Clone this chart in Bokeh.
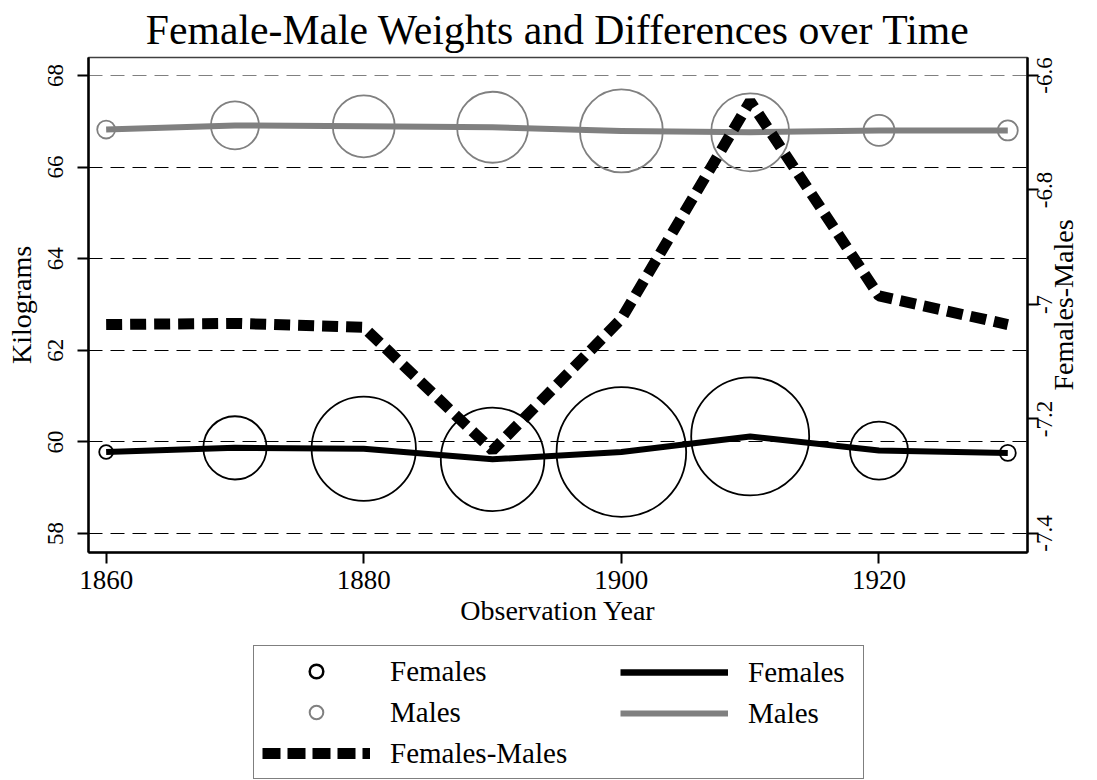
import math
from bokeh.plotting import figure
from bokeh.layouts import column
from bokeh.models import (Range1d, LinearAxis, FixedTicker, Grid, Legend,
                          LegendItem, ColumnDataSource, CustomJSTickFormatter)
from bokeh.embed import file_html
from bokeh.resources import INLINE

# ---------------- data ----------------
years = [1860, 1870, 1880, 1890, 1900, 1910, 1920, 1930]
female_kg = [59.78, 59.87, 59.85, 59.62, 59.78, 60.12, 59.81, 59.76]
male_kg = [66.82, 66.91, 66.89, 66.87, 66.79, 66.76, 66.80, 66.80]
diff_kg = [-7.035, -7.033, -7.04, -7.255, -7.025, -6.645, -6.985, -7.035]
female_n = [12, 250, 680, 670, 1050, 870, 210, 16]   # bubble weights
male_n = [20, 144, 240, 315, 430, 380, 60, 25]

x_ticks = [1860, 1880, 1900, 1920]
kg_ticks = [58, 60, 62, 64, 66, 68]
diff_ticks = [-7.4, -7.2, -7, -6.8, -6.6]
diff_labels = ["-7.4", "-7.2", "-7", "-6.8", "-6.6"]

title = "Female-Male Weights and Differences over Time"
x_title = "Observation Year"
y_title = "Kilograms"
y2_title = "Females-Males"

# ---------------- styling / layout ----------------
FONT = "Liberation Serif"
GRAY = "#808080"
BUBBLE = 4.0          # marker diameter (px) per sqrt(weight)
XTICK_PX = 27
YTICK_PX = 23
TITLE_PX = 28
W, H_MAIN, H_LEG = 1097, 640, 140
FL, FR, FT, FB = 88, 1028, 57, 552     # frame edges in page pixels

x_rng = (1858.63, 1931.53)
y_rng = (57.5852, 68.3929)
d_rng = (-7.43319, -6.56856)
ppu = (FB - FT) / (d_rng[1] - d_rng[0])   # px per unit on the right scale

# Times-like advance widths (em) for centring bottom-to-top texts on the right
ADV = {"-": 0.333, ".": 0.25, "F": 0.556, "e": 0.444, "m": 0.778, "a": 0.444,
       "l": 0.278, "s": 0.389, "M": 0.889}
def text_len(s, px):
    return sum(ADV.get(c, 0.5) for c in s) * px

src = ColumnDataSource(dict(
    year=years, female=female_kg, male=male_kg, diff=diff_kg,
    fsize=[BUBBLE * math.sqrt(n) for n in female_n],
    msize=[BUBBLE * math.sqrt(n) for n in male_n],
))

p = figure(width=W, height=H_MAIN,
           x_range=Range1d(*x_rng), y_range=Range1d(*y_rng),
           output_backend="svg", toolbar_location=None, title=title,
           min_border_left=FL, min_border_right=W - FR,
           min_border_top=FT, min_border_bottom=H_MAIN - FB)
p.extra_y_ranges = {"diff": Range1d(*d_rng)}

p.background_fill_color = "white"
p.border_fill_color = "white"
p.outline_line_color = "#404040"
p.outline_line_width = 1.5

p.title.text_font = FONT
p.title.text_font_size = "41.7px"
p.title.text_font_style = "normal"
p.title.text_color = "black"
p.title.align = "center"
p.title.offset = 0
p.title.standoff = 9

# grids
p.xgrid.visible = False
p.ygrid.ticker = FixedTicker(ticks=kg_ticks[:-1])
p.ygrid.grid_line_color = "black"
p.ygrid.grid_line_width = 1.2
p.ygrid.grid_line_dash = "14 8"
p.add_layout(Grid(dimension=1, ticker=FixedTicker(ticks=kg_ticks[-1:]),
                  grid_line_color=GRAY, grid_line_width=1.2,
                  grid_line_dash="14 8"))

# glyphs
p.scatter("year", "female", size="fsize", source=src, marker="circle",
          fill_color=None, line_color="black", line_width=1.8)
p.scatter("year", "male", size="msize", source=src, marker="circle",
          fill_color=None, line_color=GRAY, line_width=1.8)
p.line("year", "female", source=src, line_color="black", line_width=6,
       line_join="round")
p.line("year", "male", source=src, line_color=GRAY, line_width=6,
       line_join="round")
p.line("year", "diff", source=src, y_range_name="diff", line_color="black",
       line_width=11, line_dash="16 8", line_cap="butt")

def style_axis(ax, tick_px):
    ax.axis_line_width = 2.5
    ax.axis_line_color = "black"
    ax.major_tick_line_width = 2
    ax.major_tick_line_color = "black"
    ax.minor_tick_line_width = 2
    ax.minor_tick_line_color = "black"
    ax.major_tick_out = 11
    ax.major_tick_in = 0
    ax.minor_tick_out = 0
    ax.minor_tick_in = 0
    ax.major_label_text_font = FONT
    ax.major_label_text_font_size = f"{tick_px}px"
    ax.major_label_text_color = "black"
    ax.axis_label_text_font = FONT
    ax.axis_label_text_font_size = f"{TITLE_PX}px"
    ax.axis_label_text_font_style = "normal"
    ax.axis_label_text_color = "black"
    ax.major_label_standoff = 3
    ax.axis_label_standoff = 0

xa = p.xaxis[0]
ya = p.yaxis[0]
style_axis(xa, XTICK_PX)
style_axis(ya, YTICK_PX)
xa.ticker = FixedTicker(ticks=x_ticks)
xa.axis_label = x_title
xa.major_label_standoff = 7
xa.axis_label_standoff = 3
ya.ticker = FixedTicker(ticks=kg_ticks)
ya.axis_label = y_title
ya.major_label_orientation = "vertical"
ya.major_label_standoff = 14
ya.axis_label_standoff = 9

# right axis: line, tick marks (as minor ticks at the true values) and
# bottom-to-top labels centred on those ticks (major positions carry labels)
lab_pos = [max(t - text_len(s, YTICK_PX) / 2 / ppu, d_rng[0] + 1e-4)
           for t, s in zip(diff_ticks, diff_labels)]
r1 = LinearAxis(y_range_name="diff",
                ticker=FixedTicker(ticks=lab_pos, minor_ticks=diff_ticks))
style_axis(r1, YTICK_PX)
r1.major_tick_out = 0
r1.minor_tick_out = 11
r1.major_label_orientation = math.pi / 2
r1.major_label_standoff = 6
r1.formatter = CustomJSTickFormatter(
    args=dict(pos=lab_pos, labels=diff_labels),
    code="const i = pos.findIndex(v => Math.abs(v - tick) < 1e-6);"
         "return i >= 0 ? labels[i] : '';")
p.add_layout(r1, "right")

# right axis title, bottom-to-top, centred on the frame
mid = (d_rng[0] + d_rng[1]) / 2
title_pos = mid - text_len(y2_title, TITLE_PX) / 2 / ppu
r3 = LinearAxis(y_range_name="diff", ticker=FixedTicker(ticks=[title_pos]))
style_axis(r3, TITLE_PX)
r3.axis_line_color = None
r3.major_tick_out = 0
r3.major_label_orientation = math.pi / 2
r3.major_label_standoff = 1
r3.formatter = CustomJSTickFormatter(args=dict(t=y2_title), code="return t;")
p.add_layout(r3, "right")

# ---------------- legend (own canvas below the chart) ----------------
lf = figure(width=W, height=H_LEG, x_range=Range1d(0, 1), y_range=Range1d(0, 1),
            output_backend="svg", toolbar_location=None, min_border=0,
            x_axis_location=None, y_axis_location=None)
lf.outline_line_color = None
lf.xgrid.visible = False
lf.ygrid.visible = False
lf.background_fill_color = "white"
lf.border_fill_color = "white"

# same series, drawn outside this canvas' view: only their legend keys show
k_fc = lf.scatter("year", "female", source=src, marker="circle", size=10,
                  fill_color=None, line_color="black", line_width=2.5)
k_mc = lf.scatter("year", "male", source=src, marker="circle", size=10,
                  fill_color=None, line_color=GRAY, line_width=2)
k_fl = lf.line("year", "female", source=src, line_color="black", line_width=6.5)
k_ml = lf.line("year", "male", source=src, line_color=GRAY, line_width=6)
k_d = lf.line("year", "diff", source=src, line_color="black", line_width=11,
              line_dash="18 7", line_cap="butt")

def style_legend(lg):
    lg.label_text_font = FONT
    lg.label_text_font_size = "29px"
    lg.label_text_color = "black"
    lg.glyph_width = 108
    lg.glyph_height = 34
    lg.label_height = 34
    lg.label_standoff = 20
    lg.padding = 8
    lg.spacing = 7
    lg.margin = 0

leg1 = Legend(items=[LegendItem(label="Females", renderers=[k_fc]),
                     LegendItem(label="Males", renderers=[k_mc]),
                     LegendItem(label="Females-Males", renderers=[k_d])],
              location=(253 - FL, 1))
style_legend(leg1)
leg1.label_width = 465
leg1.border_line_color = "black"
leg1.border_line_width = 1.5
leg1.background_fill_color = "white"
leg1.background_fill_alpha = 1

leg2 = Legend(items=[LegendItem(label="Females", renderers=[k_fl]),
                     LegendItem(label="Males", renderers=[k_ml])],
              location=(612 - FL, 42))
style_legend(leg2)
leg2.border_line_alpha = 0
leg2.background_fill_alpha = 0

lf.add_layout(leg1)
lf.add_layout(leg2)

layout = column(p, lf, spacing=0)
open("out.html", "w").write(file_html(layout, INLINE))
